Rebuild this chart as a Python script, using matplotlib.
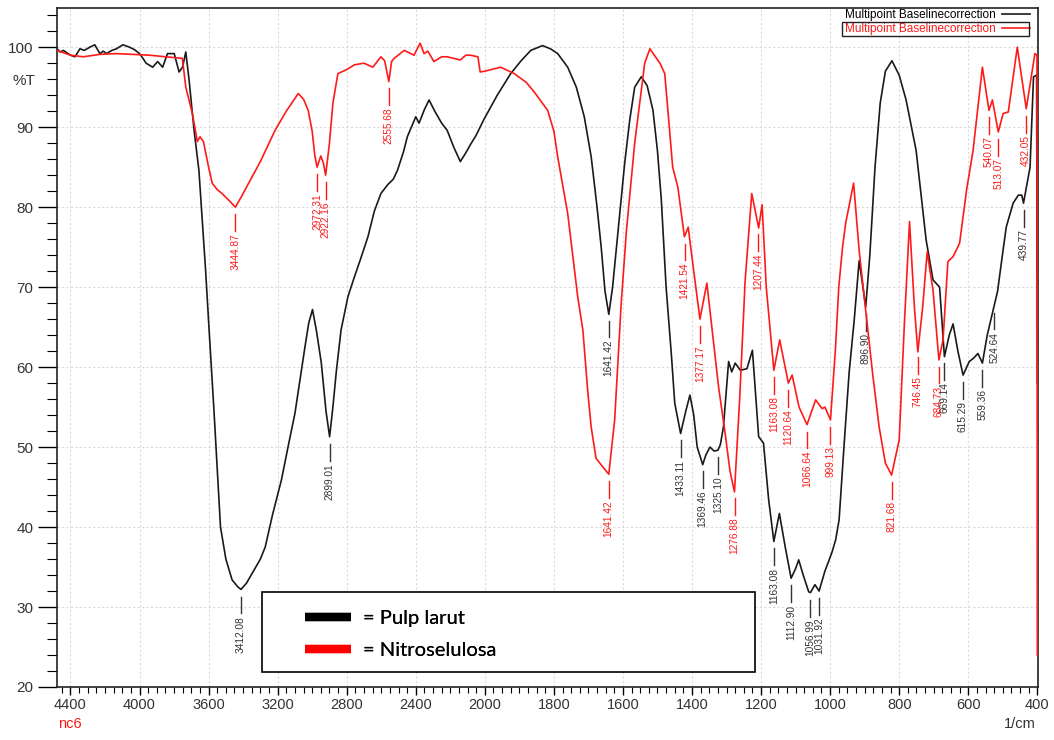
import numpy as np
import matplotlib
matplotlib.use("Agg")
import matplotlib.pyplot as plt
from matplotlib.lines import Line2D
from matplotlib.patches import Rectangle
from matplotlib.ticker import FixedLocator, FixedFormatter, NullFormatter


# FTIR spectra, wavenumber (1/cm) descending, transmittance (%T)
pulp_wn = [4478, 4460, 4441, 4420, 4400, 4374, 4345, 4320, 4288, 4259, 4230, 4210,
           4192, 4160, 4134, 4096, 4058, 4030, 4000, 3980, 3962, 3924, 3895, 3866,
           3838, 3799, 3771, 3751, 3732, 3713, 3684, 3656, 3617, 3598, 3570, 3531,
           3500, 3464, 3430, 3412, 3380, 3340, 3300, 3272, 3230, 3178, 3140, 3100,
           3070, 3042, 3020, 2998, 2975, 2947, 2920, 2899, 2880, 2860, 2833, 2793,
           2755, 2720, 2677, 2640, 2602, 2563, 2530, 2506, 2470, 2449, 2420, 2400,
           2381, 2350, 2323, 2290, 2250, 2218, 2180, 2142, 2110, 2084, 2050, 2007,
           1964, 1925, 1895, 1867, 1833, 1810, 1789, 1760, 1735, 1712, 1692, 1675,
           1663, 1652, 1641, 1630, 1612, 1595, 1580, 1566, 1547, 1530, 1513, 1500,
           1489, 1475, 1460, 1450, 1433, 1418, 1406, 1395, 1385, 1369, 1360, 1348,
           1336, 1325, 1318, 1309, 1294, 1285, 1275, 1260, 1241, 1225, 1207, 1193,
           1178, 1163, 1147, 1130, 1113, 1100, 1091, 1078, 1062, 1057, 1044, 1032,
           1015, 995, 984, 974, 960, 945, 930, 916, 905, 897, 885, 870, 855, 840,
           821, 800, 780, 751, 722, 702, 683, 675, 669, 655, 644, 630, 615, 597,
           585, 572, 559, 545, 528, 515, 503, 490, 470, 455, 445, 440, 421, 411,
           402, 400]
pulp_t = [99.8, 99.4, 99.6, 99.3, 99.0, 98.8, 99.8, 99.6, 100.0, 100.3, 99.2, 99.5,
          99.2, 99.6, 99.8, 100.3, 100.0, 99.7, 99.2, 98.6, 98.0, 97.5, 98.2, 97.5,
          99.2, 99.2, 96.9, 97.5, 99.4, 95.9, 89.6, 84.6, 72.0, 65.0, 55.0, 40.0,
          36.0, 33.4, 32.5, 32.2, 33.0, 34.5, 36.0, 37.5, 41.5, 45.9, 50.0, 54.2,
          58.5, 62.5, 65.5, 67.2, 64.5, 60.5, 54.5, 51.3, 55.0, 59.5, 64.6, 68.8,
          71.3, 73.5, 76.3, 79.5, 81.7, 82.8, 83.5, 84.6, 87.0, 88.8, 90.3, 91.3,
          90.5, 92.2, 93.4, 92.0, 90.5, 89.6, 87.5, 85.7, 86.8, 87.8, 89.0, 90.9,
          94.0, 96.7, 98.3, 99.6, 100.2, 99.8, 99.2, 97.5, 95.0, 91.3, 86.3, 80.0,
          75.0, 69.5, 66.6, 70.0, 78.0, 85.5, 91.0, 95.0, 96.3, 95.2, 92.1, 87.0,
          81.0, 70.0, 61.7, 55.5, 51.7, 54.5, 56.5, 54.0, 50.0, 47.8, 49.0, 50.0,
          49.5, 49.6, 50.3, 52.5, 60.7, 59.4, 60.5, 59.6, 59.8, 62.1, 51.3, 50.5,
          43.4, 38.2, 41.7, 37.5, 33.6, 34.8, 35.9, 34.0, 31.9, 31.8, 32.8, 32.0,
          34.5, 36.8, 38.4, 40.9, 50.0, 59.3, 66.0, 73.3, 70.0, 67.5, 74.0, 85.0,
          93.0, 97.0, 98.3, 96.5, 93.4, 87.1, 75.9, 70.9, 70.0, 65.0, 61.3, 64.0,
          65.4, 62.0, 59.0, 60.7, 61.1, 61.7, 60.5, 64.0, 67.1, 69.5, 73.4, 77.5,
          80.5, 81.5, 81.5, 80.5, 85.0, 96.3, 96.5, 58.0]

nitro_wn = [4478, 4400, 4326, 4230, 4134, 4040, 3943, 3850, 3752, 3732, 3694, 3665,
            3650, 3630, 3600, 3579, 3550, 3522, 3480, 3445, 3410, 3368, 3300, 3215,
            3150, 3100, 3081, 3050, 3023, 3000, 2985, 2972, 2950, 2935, 2922, 2900,
            2880, 2851, 2800, 2755, 2700, 2649, 2602, 2580, 2556, 2540, 2525, 2467,
            2410, 2375, 2352, 2330, 2295, 2250, 2218, 2180, 2142, 2110, 2084, 2040,
            2027, 2000, 1954, 1915, 1880, 1857, 1818, 1800, 1789, 1760, 1731, 1716,
            1702, 1692, 1678, 1658, 1641, 1624, 1605, 1590, 1566, 1537, 1522, 1493,
            1479, 1469, 1456, 1441, 1422, 1411, 1395, 1377, 1357, 1340, 1323, 1304,
            1290, 1277, 1262, 1246, 1227, 1207, 1197, 1185, 1163, 1146, 1121, 1110,
            1090, 1067, 1042, 1023, 1015, 999, 985, 975, 964, 955, 932, 916, 896,
            877, 858, 840, 822, 800, 785, 770, 756, 746, 732, 719, 702, 685, 673,
            659, 644, 625, 605, 586, 559, 540, 530, 513, 499, 484, 458, 432, 407,
            401, 400]
nitro_t = [99.6, 99.0, 98.8, 99.1, 99.2, 99.1, 99.0, 98.8, 98.6, 95.0, 91.7, 88.2,
           88.8, 88.2, 85.0, 83.0, 82.2, 81.7, 80.8, 80.0, 81.3, 83.0, 85.7, 89.6,
           92.0, 93.6, 94.2, 93.5, 92.1, 89.5, 86.5, 85.0, 86.4, 85.5, 84.0, 88.0,
           93.0, 96.7, 97.2, 97.8, 98.0, 97.5, 98.8, 98.3, 95.7, 98.2, 98.6, 99.6,
           99.0, 100.5, 99.2, 99.5, 98.2, 98.8, 98.8, 98.6, 98.4, 99.0, 99.0, 98.8,
           96.9, 97.0, 97.5, 96.7, 95.6, 94.4, 92.1, 89.5, 86.3, 79.2, 68.8, 64.6,
           57.0, 52.5, 48.6, 47.5, 46.6, 53.4, 68.0, 77.0, 88.0, 98.0, 99.8, 98.0,
           96.7, 91.7, 85.0, 82.5, 76.3, 77.5, 72.0, 66.0, 70.5, 64.0, 57.5, 51.7,
           47.0, 44.4, 56.0, 70.9, 81.7, 77.4, 80.3, 70.0, 59.6, 63.4, 58.0, 59.0,
           55.0, 52.8, 55.9, 54.8, 55.0, 53.4, 62.0, 70.0, 75.0, 78.0, 83.0, 74.6,
           66.7, 59.2, 52.5, 48.0, 46.5, 50.9, 65.4, 78.2, 67.5, 61.9, 67.5, 74.4,
           69.6, 60.9, 63.4, 73.2, 73.8, 75.5, 82.1, 87.1, 97.5, 92.1, 93.4, 89.4,
           91.7, 91.9, 100.0, 92.3, 99.2, 99.0, 24.0]

pulp_peaks = [3412.08, 2899.01, 1641.42, 1433.11, 1369.46, 1325.10, 1163.08, 1112.90,
              1056.99, 1031.92, 896.90, 669.14, 615.29, 559.36, 524.64, 439.77]
nitro_peaks = [3444.87, 2972.31, 2922.16, 2555.68, 1641.42, 1421.54, 1377.17, 1276.88,
               1207.44, 1163.08, 1120.64, 1066.64, 999.13, 821.68, 746.45, 684.73,
               540.07, 513.07, 432.05]

x_major = [4400, 4000, 3600, 3200, 2800, 2400, 2000, 1800, 1600, 1400, 1200, 1000,
           800, 600, 400]
y_major = [20, 30, 40, 50, 60, 70, 80, 90, 100]

BLACK = "#1a1a1a"
RED = "#ff1a1a"


def fwd(w):
    w = np.asarray(w, dtype=float)
    return np.where(w >= 2000, (w - 2000) / 400.0, (w - 2000) / 200.0)


def inv(u):
    u = np.asarray(u, dtype=float)
    return np.where(u >= 0, 2000 + 400.0 * u, 2000 + 200.0 * u)


def label_peaks(ax, wn, t, peaks, color, z):
    wn_a = np.asarray(wn, dtype=float)[::-1]
    t_a = np.asarray(t, dtype=float)[::-1]
    for p in peaks:
        v = np.interp(p, wn_a, t_a)
        ax.plot([p, p], [v - 0.9, v - 3.0], color=color, lw=1.0, zorder=z)
        ax.text(p, v - 3.3, f"{p:.2f}", rotation=90, ha="center", va="top",
                fontsize=7.3, color=color, family="Liberation Sans", zorder=z)


fig = plt.figure(figsize=(10.54, 7.4), dpi=100)
ax = fig.add_axes([57 / 1054, 1 - 687 / 740, 981 / 1054, 679 / 740])
ax.set_xscale("function", functions=(fwd, inv))

ax.grid(True, which="major", color="#dadada", linestyle=(0, (2, 2)), lw=0.8, zorder=0)

l_pulp, = ax.plot(pulp_wn, pulp_t, color=BLACK, lw=1.2, zorder=3)
l_nitro, = ax.plot(nitro_wn, nitro_t, color=RED, lw=1.2, zorder=4)

label_peaks(ax, pulp_wn, pulp_t, pulp_peaks, "#333333", 3)
label_peaks(ax, nitro_wn, nitro_t, nitro_peaks, RED, 4)

ax.set_xlim(4478, 398)
ax.set_ylim(20, 104.9)

ax.xaxis.set_major_locator(FixedLocator(x_major))
ax.xaxis.set_major_formatter(FixedFormatter([str(v) for v in x_major]))
minor_x = [v for v in list(range(4450, 2000, -50)) + list(range(1975, 400, -25))
           if v not in x_major]
ax.xaxis.set_minor_locator(FixedLocator(minor_x))
ax.xaxis.set_minor_formatter(NullFormatter())
ax.yaxis.set_major_locator(FixedLocator(y_major))
ax.yaxis.set_minor_locator(FixedLocator(list(range(22, 105, 2))))

ax.tick_params(axis="x", which="major", direction="out", length=6, width=1.0,
               pad=2, labelsize=10.5, labelcolor="#333333")
ax.tick_params(axis="x", which="minor", direction="out", length=4, width=0.8)
ax.tick_params(axis="y", which="major", direction="out", length=14, width=1.0,
               pad=3, labelsize=11, labelcolor="#333333")
ax.tick_params(axis="y", which="minor", direction="out", length=7, width=0.8)
for lab in ax.get_xticklabels() + ax.get_yticklabels():
    lab.set_family("Liberation Sans")

for s in ax.spines.values():
    s.set_linewidth(1.2)
    s.set_color("#222222")

ax.set_ylabel("%T", rotation=0, fontsize=11, color="#333333", family="Liberation Sans")
ax.yaxis.set_label_coords(-0.034, 0.882)

fig.text(70 / 1054, 1 - 724 / 740, "nc6", color=RED, fontsize=10.5, ha="center",
         va="center", family="Liberation Sans")
fig.text(1020 / 1054, 1 - 724 / 740, "1/cm", color="#333333", fontsize=10.5,
         ha="center", va="center", family="Liberation Sans")

# instrument legend, top right
leg_top = ax.legend([l_pulp, l_nitro], ["Multipoint Baselinecorrection"] * 2,
                    loc="upper right", bbox_to_anchor=((1030 - 57) / 981, (687 - 9) / 679),
                    frameon=False, markerfirst=False, handlelength=2.4,
                    handletextpad=0.5, labelspacing=0.2, borderpad=0, borderaxespad=0,
                    prop={"family": "Liberation Sans", "size": 8.5})
leg_top.get_texts()[1].set_color(RED)
ax.add_artist(leg_top)

# sample legend box
ax.add_patch(Rectangle((0.209, 0.022), 0.5025, 0.118, transform=ax.transAxes,
                       facecolor="white", edgecolor="black", lw=1.2, zorder=8))
h1 = Line2D([], [], color="black", lw=6, solid_capstyle="butt")
h2 = Line2D([], [], color="red", lw=6, solid_capstyle="butt")
leg_box = ax.legend([h1, h2], ["= Pulp larut", "= Nitroselulosa"], loc="center left",
                    bbox_to_anchor=(0.2528, 0.0773), frameon=False, handlelength=2.3,
                    handletextpad=0.6, labelspacing=0.75, borderpad=0, borderaxespad=0,
                    prop={"family": "Lato", "size": 14.5})
leg_box.set_zorder(9)
ax.add_artist(leg_box)

# box around the second instrument legend entry
fig.canvas.draw()
r = fig.canvas.get_renderer()
tb = leg_top.get_texts()[1].get_window_extent(r)
x0, y0, x1, y1 = tb.x0 - 3, tb.y0 - 1, tb.x1 + 33, tb.y1 + 1
inv_t = fig.transFigure.inverted()
(fx0, fy0), (fx1, fy1) = inv_t.transform([(x0, y0), (x1, y1)])
fig.add_artist(Rectangle((fx0, fy0), fx1 - fx0, fy1 - fy0, transform=fig.transFigure,
                         fill=False, edgecolor="#222222", lw=1.0))

fig.savefig("out.png", dpi=100)
